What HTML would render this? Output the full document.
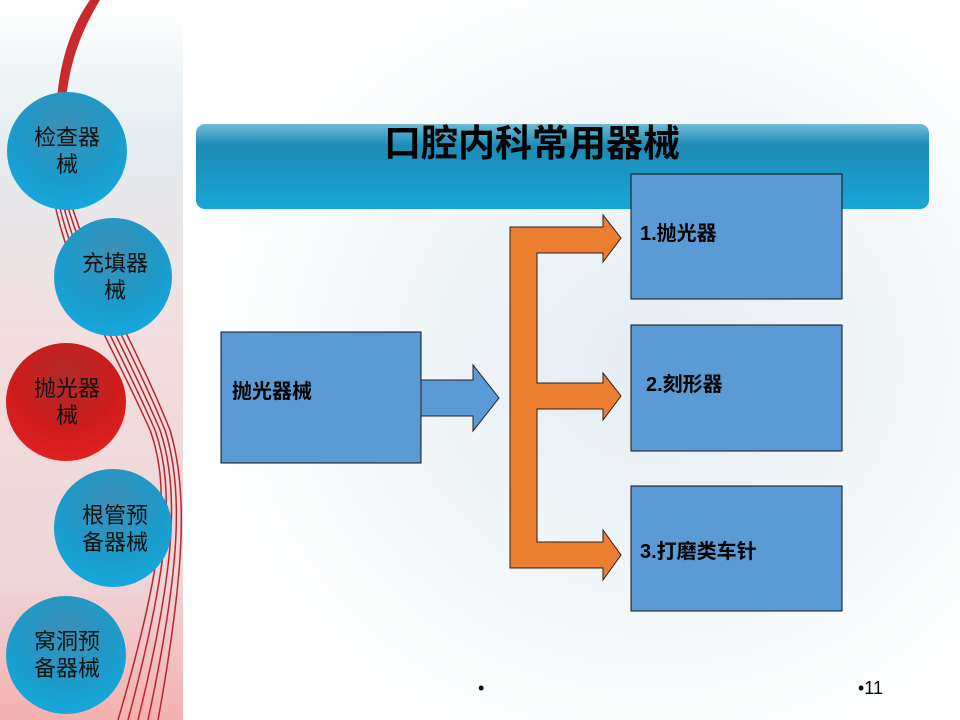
<!DOCTYPE html>
<html><head><meta charset="utf-8"><style>
html,body{margin:0;padding:0;width:960px;height:720px;overflow:hidden;background:#fff}
svg{display:block}
text{font-family:"Liberation Sans","Noto Sans CJK SC",sans-serif}
</style></head><body>
<svg width="960" height="720" viewBox="0 0 960 720" xmlns="http://www.w3.org/2000/svg">
<defs>
<linearGradient id="left" x1="0" y1="0" x2="0" y2="1">
<stop offset="0" stop-color="#ffffff"/>
<stop offset="0.2" stop-color="#e4ecf0"/>
<stop offset="0.5" stop-color="#f3dcdc"/>
<stop offset="0.8" stop-color="#eed6d8"/>
<stop offset="1" stop-color="#f6b0b0"/>
</linearGradient>
<radialGradient id="bg" cx="0.6" cy="0.5" r="0.6">
<stop offset="0" stop-color="#e4edf2"/>
<stop offset="1" stop-color="#ffffff"/>
</radialGradient>
<linearGradient id="bar" x1="0" y1="0" x2="0" y2="1">
<stop offset="0" stop-color="#6fbcd8"/>
<stop offset="0.25" stop-color="#1d8bb5"/>
<stop offset="1" stop-color="#18a6d8"/>
</linearGradient>
<radialGradient id="blue" cx="0.5" cy="0.3" r="0.7">
<stop offset="0" stop-color="#3d8fb5"/>
<stop offset="0.6" stop-color="#1c9ac9"/>
<stop offset="1" stop-color="#16a8dc"/>
</radialGradient>
<radialGradient id="red" cx="0.5" cy="0.3" r="0.7">
<stop offset="0" stop-color="#b02a2a"/>
<stop offset="0.6" stop-color="#cc1c1c"/>
<stop offset="1" stop-color="#e02020"/>
</radialGradient>
</defs>
<rect x="183" y="0" width="777" height="720" fill="url(#bg)"/>
<rect x="0" y="0" width="183" height="720" fill="url(#left)"/>
<g fill="none" stroke="#b8262c" stroke-width="1.5">
<path d="M54 200 C70 280 110 340 150 430 C172 490 162 570 118 720"/>
<path d="M58 200 C76 280 116 340 155 430 C176 490 168 570 128 720"/>
<path d="M62 200 C82 280 122 340 160 430 C180 490 175 570 138 720"/>
<path d="M66 200 C88 280 128 340 165 430 C184 490 180 570 148 720"/>
<path d="M70 200 C94 280 134 340 170 430 C188 490 185 570 158 720"/>
</g>
<path d="M90 0 L100 0 C82 30 70 60 66 100 L57 100 C60 60 72 25 90 0Z" fill="#c82a30"/>
<g font-size="22" fill="#111" text-anchor="middle">
<ellipse cx="67" cy="151" rx="60" ry="59" fill="url(#blue)"/>
<text x="67" y="145">检查器</text><text x="67" y="172">械</text>
<ellipse cx="113" cy="277" rx="59" ry="59" fill="url(#blue)"/>
<text x="115" y="271">充填器</text><text x="115" y="298">械</text>
<ellipse cx="66" cy="402" rx="60" ry="59" fill="url(#red)"/>
<text x="67" y="396">抛光器</text><text x="67" y="423">械</text>
<ellipse cx="113" cy="528" rx="59" ry="59" fill="url(#blue)"/>
<text x="115" y="523">根管预</text><text x="115" y="550">备器械</text>
<ellipse cx="66" cy="655" rx="60" ry="59" fill="url(#blue)"/>
<text x="67" y="649">窝洞预</text><text x="67" y="676">备器械</text>
</g>
<rect x="196" y="124" width="733" height="85" rx="9" fill="url(#bar)"/>
<text x="532" y="156" font-size="37" font-weight="bold" text-anchor="middle" fill="#000">口腔内科常用器械</text>
<rect x="221" y="332" width="200" height="131" fill="#5b9bd5" stroke="#111" stroke-width="1"/>
<text x="232" y="398" font-size="20" font-weight="bold" fill="#000">抛光器械</text>
<path d="M421 380 L473 380 L473 365 L499 398 L473 431 L473 416 L421 416Z" fill="#5b9bd5" stroke="#222" stroke-width="1"/>
<path d="M510 227 L603 227 L603 215 L621 238 L603 262 L603 253 L537 253 L537 383 L603 383 L603 373 L621 396 L603 420 L603 409 L537 409 L537 542 L603 542 L603 530 L621 555 L603 580 L603 568 L510 568Z" fill="#ed7d31" stroke="#222" stroke-width="1"/>
<rect x="631" y="174" width="211" height="125" fill="#5b9bd5" stroke="#111"/>
<rect x="631" y="325" width="211" height="126" fill="#5b9bd5" stroke="#111"/>
<rect x="631" y="486" width="211" height="125" fill="#5b9bd5" stroke="#111"/>
<g font-size="20" font-weight="bold" fill="#000">
<text x="640" y="240">1.抛光器</text>
<text x="646" y="391">2.刻形器</text>
<text x="640" y="558">3.打磨类车针</text>
</g>
<text x="478" y="694" font-size="18" fill="#000">•</text>
<text x="858" y="694" font-size="18" fill="#000">•11</text>
</svg>
</body></html>
